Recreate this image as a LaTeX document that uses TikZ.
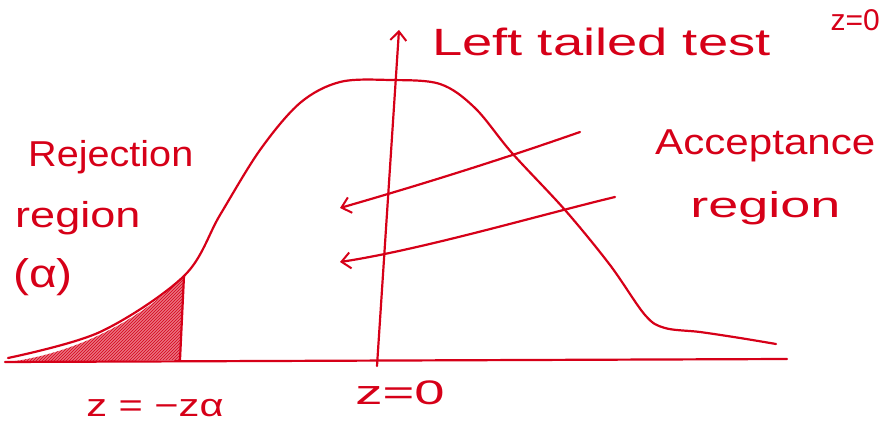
\documentclass[tikz,border=0pt]{standalone}
\usepackage{fontspec}
\setmainfont{Liberation Sans}
\usetikzlibrary{arrows.meta,patterns}
\definecolor{ink}{RGB}{214,0,24}
\begin{document}
\begin{tikzpicture}[x=1pt,y=-1pt,
  pen/.style={draw=ink,line width=2.2pt,line cap=round,line join=round},
  hand/.style={text=ink,inner sep=0pt,anchor=west},
  barb/.style={-{Straight Barb[length=9pt,width=16pt,line width=2pt]}}]
\useasboundingbox (0,0) rectangle (881,430);
\clip (0,0) rectangle (881,430);
% shaded rejection region
\fill[ink!55] (8,362) .. controls (60,356) and (130,330) .. (184,276) -- (180,360) -- cycle;
\fill[pattern=north east lines,pattern color=ink] (8,362) .. controls (60,356) and (130,330) .. (184,276) -- (180,360) -- cycle;
\draw[pen] (184,276) -- (180,360);
% baseline
\coordinate (bl) at (5,362);
\coordinate (br) at (787,359);
\draw[pen] (bl) -- (br);
% vertical axis
\coordinate (vb) at (377,366);
\coordinate (vt) at (399,30);
\draw[pen,barb] (vb) -- (vt);
% curve
\draw[pen] plot[smooth,tension=0.55] coordinates {(8,358) (100,332) (184,276) (220,215) (260,150) (300,103) (340,82) (390,80) (440,84) (475,108) (512,153) (565,210) (610,265) (645,315) (665,328) (700,332) (740,338) (776,344)};
% texts
\node[hand,font=\fontsize{38}{40}\selectfont,xscale=1.43] (ltt) at (432,42) {Left tailed test};
\node[hand,font=\fontsize{30}{32}\selectfont,anchor=east] (ztop) at (880,20) {z=0};
\node[hand,font=\fontsize{36}{38}\selectfont,xscale=1.1] (rej) at (28,157) {Rejection};
\node[hand,font=\fontsize{36}{38}\selectfont,xscale=1.25] (reg1) at (15,218) {region};
\node[hand,font=\fontsize{40}{42}\selectfont,xscale=1.2] (alp) at (13,277) {(α)};
\node[hand,font=\fontsize{36}{38}\selectfont,xscale=1.17] (acc) at (655,146) {Acceptance};
\node[hand,font=\fontsize{36}{38}\selectfont,xscale=1.5] (reg2) at (690,208) {region};
\node[hand,font=\fontsize{32}{34}\selectfont,xscale=1.3] (zl) at (86,408) {z = −zα};
\node[hand,font=\fontsize{34}{36}\selectfont,xscale=1.6] (z0) at (355,393) {z=0};
% annotation arrows
\coordinate (a1) at (580,132);
\coordinate (t1) at (340,208);
\coordinate (a2) at (615,197);
\coordinate (t2) at (340,262);
\draw[pen,barb] (a1) .. controls (500,160) and (420,185) .. (t1);
\draw[pen,barb] (a2) .. controls (540,215) and (420,250) .. (t2);
\end{tikzpicture}
\end{document}
